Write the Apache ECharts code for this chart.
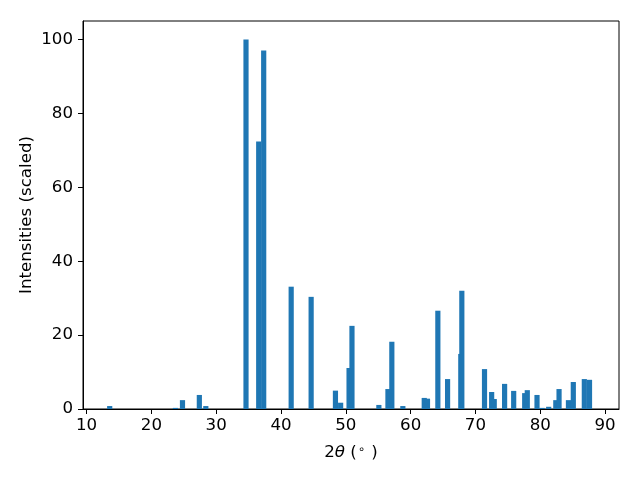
<!DOCTYPE html>
<html>
<head>
<meta charset="utf-8">
<script src="https://cdn.jsdelivr.net/npm/echarts@6/dist/echarts.min.js"></script>
<style>html,body{margin:0;padding:0;background:#fff}#c{width:640px;height:480px}</style>
</head>
<body>
<div id="c"></div>
<script>
// 2-theta peak positions (degrees)
const positions = [13.57, 23.7, 24.8, 27.4, 28.4, 34.6, 36.56, 37.33, 41.57, 44.65,
  48.4, 49.2, 50.5, 50.95, 55.1, 56.5, 57.1, 58.8, 62.1, 62.6,
  64.2, 65.7, 67.74, 67.9, 71.4, 72.5, 72.9, 74.5, 75.9, 77.6,
  78.0, 79.5, 80.3, 81.3, 82.4, 82.9, 84.35, 85.1, 86.8, 87.6];
// scaled intensities
const intensities = [0.8, 0.3, 2.4, 3.8, 0.8, 100, 72.4, 97.0, 33.1, 30.35,
  4.97, 1.7, 11.1, 22.5, 1.1, 5.4, 18.2, 0.8, 3.0, 2.8,
  26.6, 8.1, 14.9, 32.0, 10.8, 4.6, 2.7, 6.8, 4.9, 4.3,
  5.1, 3.8, 0.3, 0.6, 2.4, 5.4, 2.4, 7.3, 8.1, 7.9];
const xTicks = [10, 20, 30, 40, 50, 60, 70, 80, 90];
const yTicks = [0, 20, 40, 60, 80, 100];
const barWidth = 0.8;

const data = positions.map((p, i) => [p, intensities[i]]);
const FONT = 'DejaVu Sans';
const chart = echarts.init(document.getElementById('c'), null, {renderer: 'canvas'});
chart.setOption({
  animation: false,
  backgroundColor: '#fff',
  grid: {left: 83, right: 21, top: 21, bottom: 71, show: true, borderColor: '#000', borderWidth: 1},
  xAxis: {
    type: 'value', min: 9.45, max: 92.15,
    splitLine: {show: false},
    axisLine: {show: true, lineStyle: {color: '#000', width: 1}},
    axisTick: {show: true, length: 5, lineStyle: {color: '#000'}, customValues: xTicks},
    axisLabel: {color: '#000', fontFamily: FONT, fontSize: 16.67, margin: 8, customValues: xTicks},
    name: '{n|2}{i|θ}{n| (}{s|∘}{n| )}',
    nameLocation: 'middle', nameGap: 35, nameMoveOverlap: false,
    nameTextStyle: {
      rich: {
        n: {fontFamily: FONT, fontSize: 16.67, color: '#000'},
        i: {fontFamily: FONT, fontStyle: 'italic', fontSize: 16.67, color: '#000'},
        s: {fontFamily: FONT, fontSize: 11.5, color: '#000', verticalAlign: 'top', padding: [0, 1, 6, 1]}
      }
    }
  },
  yAxis: {
    type: 'value', min: 0, max: 105,
    splitLine: {show: false},
    axisLine: {show: true, lineStyle: {color: '#000', width: 1}},
    axisTick: {show: true, length: 5, lineStyle: {color: '#000'}, customValues: yTicks},
    axisLabel: {color: '#000', fontFamily: FONT, fontSize: 16.67, margin: 10, customValues: yTicks},
    name: 'Intensities (scaled)',
    nameLocation: 'middle', nameGap: 48, nameRotate: 90, nameMoveOverlap: false,
    nameTextStyle: {fontFamily: FONT, fontSize: 16.67, color: '#000'}
  },
  series: [{
    type: 'custom',
    data: data,
    clip: true,
    renderItem: function (params, api) {
      const x = api.value(0), y = api.value(1);
      const p0 = api.coord([x - barWidth / 2, y]);
      const p1 = api.coord([x + barWidth / 2, 0]);
      return {
        type: 'rect',
        shape: {x: p0[0], y: p0[1], width: p1[0] - p0[0], height: p1[1] - p0[1]},
        style: {fill: '#1f77b4'}
      };
    }
  }]
});
</script>
</body>
</html>
